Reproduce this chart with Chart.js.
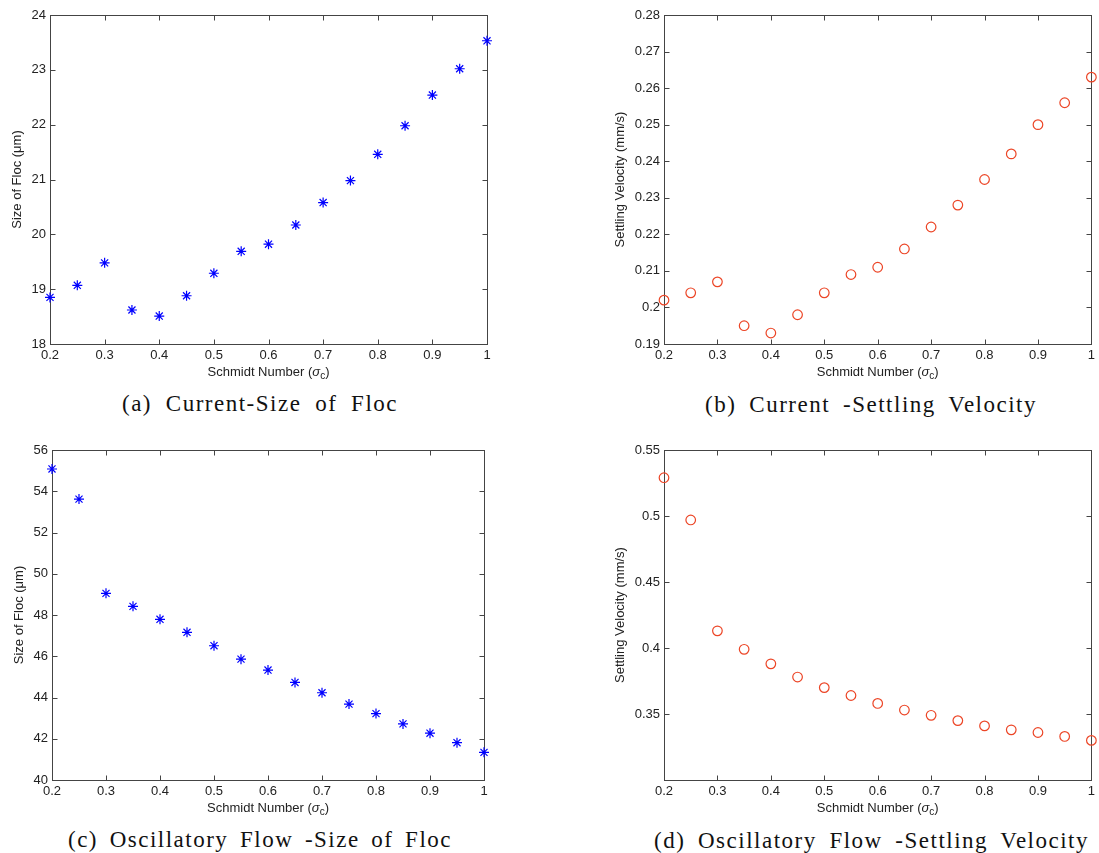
<!DOCTYPE html>
<html>
<head>
<meta charset="utf-8">
<script src="https://cdn.jsdelivr.net/npm/chart.js@4.4.1/dist/chart.umd.min.js"></script>
<style>
  html, body { margin: 0; padding: 0; background: #fff; }
  #page { position: relative; width: 1099px; height: 853px; overflow: hidden; }
  canvas { position: absolute; }
  .cap {
    position: absolute;
    font: 23px "Liberation Serif", "DejaVu Serif", serif;
    letter-spacing: 1.5px;
    line-height: 24px;
    color: #111;
    text-align: justify;
    text-align-last: justify;
  }
</style>
</head>
<body>
<div id="page">
  <canvas id="cA" width="545" height="385" style="left:0;top:0"></canvas>
  <canvas id="cB" width="539" height="385" style="left:560px;top:0"></canvas>
  <canvas id="cC" width="545" height="385" style="left:0;top:430px"></canvas>
  <canvas id="cD" width="539" height="385" style="left:560px;top:430px"></canvas>
  <div class="cap" id="capA" style="left:122px;top:392px;width:276px"></div>
  <div class="cap" id="capB" style="left:705px;top:393px;width:332px"></div>
  <div class="cap" id="capC" style="left:68px;top:828px;width:384px"></div>
  <div class="cap" id="capD" style="left:654px;top:829px;width:435px"></div>
</div>
<script>
// Schmidt number sweep shared by all four panels
const schmidt = [0.2, 0.25, 0.3, 0.35, 0.4, 0.45, 0.5, 0.55, 0.6, 0.65, 0.7, 0.75, 0.8, 0.85, 0.9, 0.95, 1.0];

// floc size (um) and settling velocity (mm/s), current case
const sizeCurrent = [18.85, 19.07, 19.48, 18.62, 18.51, 18.88, 19.29, 19.69, 19.82, 20.17, 20.58, 20.98, 21.46, 21.98, 22.54, 23.02, 23.53];
const velCurrent = [0.202, 0.204, 0.207, 0.195, 0.193, 0.198, 0.204, 0.209, 0.211, 0.216, 0.222, 0.228, 0.235, 0.242, 0.250, 0.256, 0.263];

// oscillatory flow case
const sizeOsc = [55.08, 53.62, 49.05, 48.42, 47.79, 47.16, 46.51, 45.86, 45.33, 44.73, 44.23, 43.68, 43.22, 42.72, 42.27, 41.81, 41.34];
const velOsc = [0.529, 0.497, 0.413, 0.399, 0.388, 0.378, 0.370, 0.364, 0.358, 0.353, 0.349, 0.345, 0.341, 0.338, 0.336, 0.333, 0.330];

// axis ranges: [min, max, step]
const xRange = [0.2, 1, 0.1];
const yRangeA = [18, 24, 1];
const yRangeB = [0.19, 0.28, 0.01];
const yRangeC = [40, 56, 2];
const yRangeD = [0.3, 0.55, 0.05];

const yTitleSize = 'Size of Floc (\u03BCm)';
const yTitleVel = 'Settling Velocity (mm/s)';

const captions = [
    '(a) Current-Size of Floc',
    '(b) Current -Settling Velocity',
    '(c) Oscillatory Flow -Size of Floc',
    '(d) Oscillatory Flow -Settling Velocity'
];

const SANS = '"Liberation Sans", Arial, Helvetica, sans-serif';
const fmt = v => String(Number(v.toFixed(4)));

// matlab-style box with inward tick marks on all four sides
const frame = {
    id: 'frame',
    beforeDatasetsDraw(chart) {
        const { ctx, chartArea: a, scales: { x, y } } = chart;
        const L = Math.round(a.left) + 0.5, R = Math.round(a.right) + 0.5;
        const T = Math.round(a.top) + 0.5, B = Math.round(a.bottom) + 0.5;
        ctx.save();
        ctx.strokeStyle = '#444';
        ctx.lineWidth = 1;
        ctx.strokeRect(L, T, R - L, B - T);
        ctx.beginPath();
        x.ticks.forEach(t => {
            const px = Math.round(x.getPixelForValue(t.value)) + 0.5;
            ctx.moveTo(px, B); ctx.lineTo(px, B - 5);
            ctx.moveTo(px, T); ctx.lineTo(px, T + 5);
        });
        y.ticks.forEach(t => {
            const py = Math.round(y.getPixelForValue(t.value)) + 0.5;
            ctx.moveTo(L, py); ctx.lineTo(L + 5, py);
            ctx.moveTo(R, py); ctx.lineTo(R - 5, py);
        });
        ctx.stroke();
        ctx.restore();
    }
};

// x axis title with italic sigma and subscript c
const schmidtTitle = {
    id: 'schmidtTitle',
    afterDraw(chart) {
        const { ctx, chartArea: a } = chart;
        const cx = (a.left + a.right) / 2;
        const cy = a.bottom + 28;
        const parts = [
            { t: 'Schmidt Number (', f: '13px ' + SANS, dy: 0 },
            { t: '\u03C3', f: 'italic 13px ' + SANS, dy: 0 },
            { t: 'c', f: '10px ' + SANS, dy: 4 },
            { t: ')', f: '13px ' + SANS, dy: 0 }
        ];
        ctx.save();
        ctx.fillStyle = '#222';
        ctx.textBaseline = 'middle';
        ctx.textAlign = 'left';
        let total = 0;
        parts.forEach(p => { ctx.font = p.f; p.w = ctx.measureText(p.t).width; total += p.w; });
        let x = cx - total / 2;
        parts.forEach(p => { ctx.font = p.f; ctx.fillText(p.t, x, cy + p.dy); x += p.w; });
        ctx.restore();
    }
};

function panel(id, cfg) {
    const [ymin, ymax, ystep] = cfg.yRange;
    return new Chart(document.getElementById(id), {
        type: 'scatter',
        data: {
            datasets: [{
                data: schmidt.map((x, i) => ({ x: x, y: cfg.values[i] })),
                pointStyle: cfg.marker,
                pointRadius: cfg.radius,
                pointBorderColor: cfg.color,
                pointBackgroundColor: 'transparent',
                pointBorderWidth: 1.2,
                clip: false
            }]
        },
        options: {
            responsive: false,
            animation: false,
            events: [],
            layout: { padding: { top: cfg.top, right: cfg.right, left: 0, bottom: 0 } },
            plugins: { legend: { display: false }, tooltip: { enabled: false } },
            scales: {
                x: {
                    type: 'linear',
                    min: xRange[0], max: xRange[1],
                    grid: { display: false, drawTicks: false },
                    border: { display: false },
                    ticks: {
                        stepSize: xRange[2], autoSkip: false, maxRotation: 0, padding: 4,
                        color: '#222', font: { family: SANS, size: 13 },
                        callback: fmt
                    },
                    afterFit: s => { s.height = cfg.xHeight; }
                },
                y: {
                    type: 'linear',
                    min: ymin, max: ymax,
                    grid: { display: false, drawTicks: false },
                    border: { display: false },
                    ticks: {
                        stepSize: ystep, padding: 4,
                        color: '#222', font: { family: SANS, size: 13 },
                        callback: v => (cfg.hideMin && Math.abs(v - ymin) < 1e-9) ? '' : fmt(v)
                    },
                    title: {
                        display: true, text: cfg.yTitle, color: '#222',
                        font: { family: SANS, size: 13, lineHeight: 1 },
                        padding: { top: cfg.titleX - 6.5, bottom: 0 }
                    },
                    afterFit: s => { s.width = cfg.yWidth; }
                }
            }
        },
        plugins: [frame, schmidtTitle]
    });
}

const star = { marker: 'star', radius: 5, color: '#0000ff' };
const ring = { marker: 'circle', radius: 4.8, color: '#ec4526' };

panel('cA', Object.assign({ values: sizeCurrent, yRange: yRangeA, yTitle: yTitleSize,
    top: 15, right: 58, yWidth: 50, xHeight: 41, titleX: 17 }, star));
panel('cB', Object.assign({ values: velCurrent, yRange: yRangeB, yTitle: yTitleVel,
    top: 15, right: 4, yWidth: 104, xHeight: 41, titleX: 60 }, ring));
panel('cC', Object.assign({ values: sizeOsc, yRange: yRangeC, yTitle: yTitleSize,
    top: 20, right: 61, yWidth: 52, xHeight: 35, titleX: 19 }, star));
panel('cD', Object.assign({ values: velOsc, yRange: yRangeD, yTitle: yTitleVel,
    top: 20, right: 4, yWidth: 104, xHeight: 35, titleX: 60, hideMin: true }, ring));

['capA', 'capB', 'capC', 'capD'].forEach((id, i) => {
    document.getElementById(id).textContent = captions[i];
});
</script>
</body>
</html>
